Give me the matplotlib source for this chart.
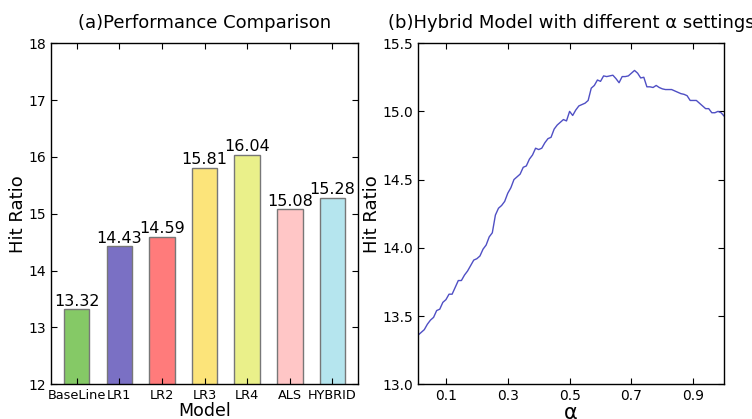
import numpy as np
import matplotlib
matplotlib.use('Agg')
import matplotlib.pyplot as plt

# bar chart data
models = ['BaseLine', 'LR1', 'LR2', 'LR3', 'LR4', 'ALS', 'HYBRID']
hit_ratio = [13.32, 14.43, 14.59, 15.81, 16.04, 15.08, 15.28]
bar_colors = ['#85c966', '#7a70c4', '#ff7b7b', '#fce47a', '#eaf08a', '#ffc6c6', '#b5e5ee']

# hybrid alpha sweep
alphas = [round(0.01 * i, 2) for i in range(1, 101)]
hybrid_hr = [
    13.36, 13.38, 13.40, 13.44, 13.47, 13.49, 13.54, 13.55, 13.60, 13.62,
    13.66, 13.66, 13.71, 13.76, 13.76, 13.80, 13.83, 13.87, 13.91, 13.92,
    13.94, 13.99, 14.02, 14.08, 14.11, 14.24, 14.29, 14.31, 14.34, 14.40,
    14.44, 14.50, 14.52, 14.54, 14.59, 14.60, 14.65, 14.68, 14.73, 14.72,
    14.73, 14.77, 14.80, 14.81, 14.87, 14.90, 14.92, 14.94, 14.93, 15.00,
    14.97, 15.01, 15.04, 15.05, 15.06, 15.08, 15.17, 15.19, 15.23, 15.22,
    15.26, 15.255, 15.26, 15.265, 15.24, 15.21, 15.255, 15.255, 15.26, 15.28,
    15.30, 15.28, 15.245, 15.25, 15.18, 15.18, 15.175, 15.19, 15.175, 15.165,
    15.16, 15.16, 15.16, 15.15, 15.14, 15.13, 15.125, 15.115, 15.08, 15.08,
    15.08, 15.06, 15.04, 15.02, 15.02, 14.99, 14.99, 15.00, 14.99, 14.965,
]

plt.rcParams['xtick.direction'] = 'in'
plt.rcParams['ytick.direction'] = 'in'
plt.rcParams['xtick.top'] = True
plt.rcParams['ytick.right'] = True
plt.rcParams['xtick.major.size'] = 4
plt.rcParams['ytick.major.size'] = 4

fig = plt.figure(figsize=(7.52, 4.19), dpi=100)
ax1 = fig.add_axes([0.068, 0.083, 0.408, 0.814])
ax2 = fig.add_axes([0.556, 0.083, 0.407, 0.814])

x = np.arange(len(models))
bars = ax1.bar(x, hit_ratio, width=0.6, color=bar_colors, edgecolor='#777777', linewidth=1)
for b, v in zip(bars, hit_ratio):
    ax1.text(b.get_x() + b.get_width() / 2, v + 0.01, '%.2f' % v,
             ha='center', va='bottom', fontsize=11.5)
ax1.set_xlim(-0.6, 6.6)
ax1.set_ylim(12, 18)
ax1.set_xticks(x)
ax1.set_xticklabels(models, fontsize=9.3)
ax1.tick_params(axis='y', labelsize=10)
ax1.set_xlabel('Model', fontsize=12.5, labelpad=0)
ax1.set_ylabel('Hit Ratio', fontsize=13, labelpad=1)
ax1.set_title('(a)Performance Comparison', fontsize=13, pad=11)

ax2.plot(alphas, hybrid_hr, color='#4f4fc4', linewidth=1)
ax2.set_xlim(0.01, 1.0)
ax2.set_ylim(13.0, 15.5)
ax2.set_xticks([0.1, 0.3, 0.5, 0.7, 0.9])
ax2.set_yticks([13.0, 13.5, 14.0, 14.5, 15.0, 15.5])
ax2.tick_params(labelsize=10)
ax2.set_xlabel('α', fontsize=15, labelpad=0)
ax2.set_ylabel('Hit Ratio', fontsize=13, labelpad=1)
ax2.set_title('(b)Hybrid Model with different α settings', fontsize=13, pad=11)

for ax in (ax1, ax2):
    for s in ax.spines.values():
        s.set_linewidth(1)

fig.savefig('out.png', dpi=100)
